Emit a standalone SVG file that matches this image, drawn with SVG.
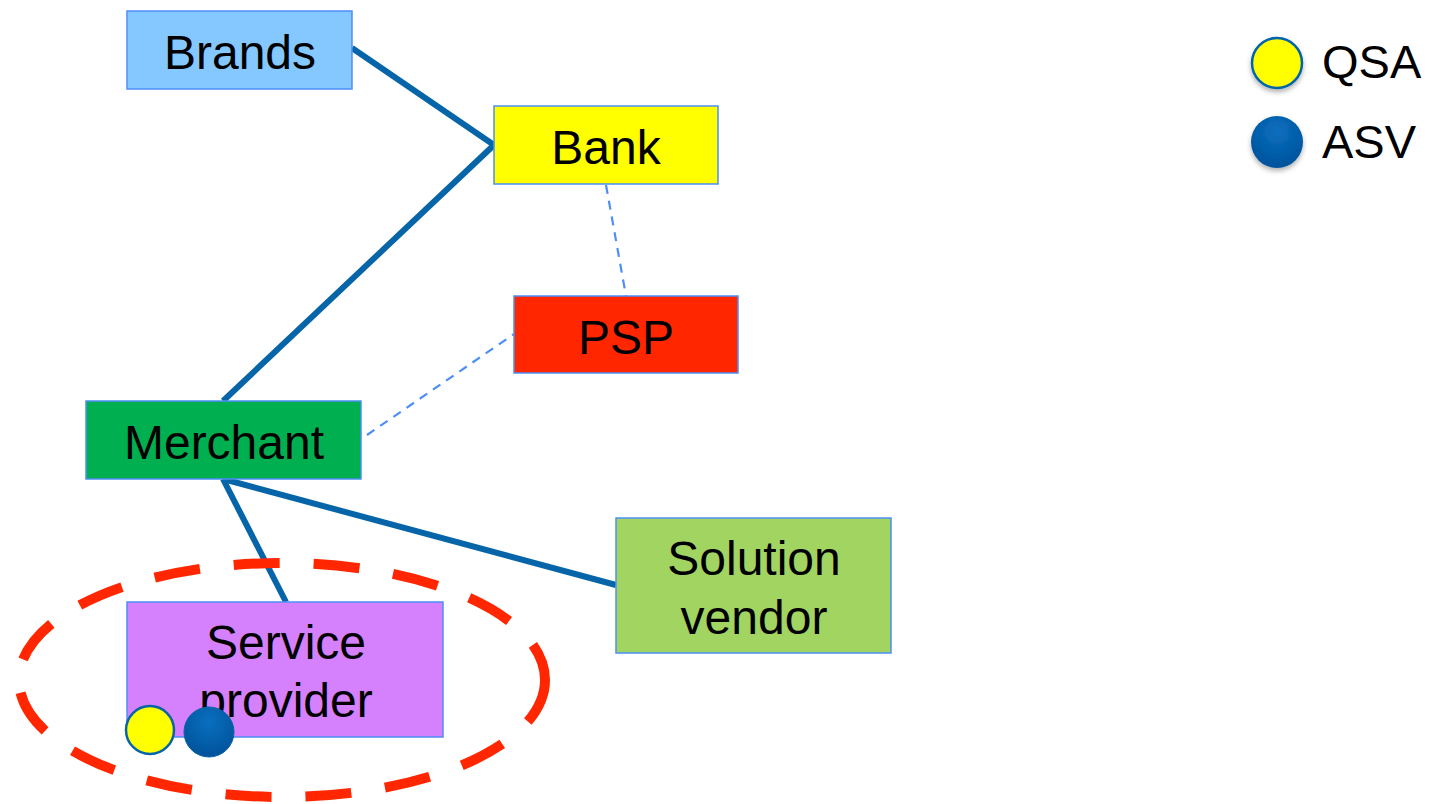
<svg xmlns="http://www.w3.org/2000/svg" width="1429" height="804" viewBox="0 0 1429 804">
<defs>
<radialGradient id="blueG" cx="0.5" cy="0.3" r="0.7"><stop offset="0" stop-color="#0a6fbf"/><stop offset="1" stop-color="#00529a"/></radialGradient>
<filter id="sh" x="-30%" y="-30%" width="160%" height="170%"><feDropShadow dx="0" dy="3" stdDeviation="2.5" flood-color="#000" flood-opacity="0.3"/></filter>
</defs>
<style>
.box{stroke:#4d8ef7;stroke-width:1.5}
.t{font-family:"Liberation Sans",Arial,sans-serif;font-size:48px;fill:#000;text-anchor:middle}
.lt{font-family:"Liberation Sans",Arial,sans-serif;font-size:47px;fill:#000}
.solid{stroke:#0565a8;stroke-width:6;fill:none;stroke-linecap:butt}
.dash{stroke:#4d8ef7;stroke-width:2.2;fill:none;stroke-dasharray:9 7}
</style>
<rect width="1429" height="804" fill="#fff"/>
<g id="connectors">
<line class="solid" x1="352" y1="48" x2="494" y2="145"/>
<line class="solid" x1="494" y1="145" x2="223" y2="401"/>
<line class="solid" x1="223" y1="479" x2="286" y2="602"/>
<line class="solid" x1="223" y1="479" x2="616" y2="585"/>
<line class="dash" x1="606" y1="185" x2="626" y2="296"/>
<line class="dash" x1="367" y1="435" x2="514" y2="334"/>
</g>
<g id="brands"><rect class="box" x="127" y="11" width="225" height="78" fill="#85c8ff"/><text class="t" x="240" y="69">Brands</text></g>
<g id="bank"><rect class="box" x="494" y="106" width="224" height="78" fill="#ffff00"/><text class="t" x="606" y="164">Bank</text></g>
<g id="psp"><rect class="box" x="514" y="296" width="224" height="77" fill="#ff2600"/><text class="t" x="626" y="354">PSP</text></g>
<g id="merchant"><rect class="box" x="86" y="401" width="275" height="78" fill="#00b050"/><text class="t" x="224" y="459">Merchant</text></g>
<g id="solution-vendor"><rect class="box" x="616" y="518" width="275" height="135" fill="#a2d462"/><text class="t" x="754" y="575">Solution</text><text class="t" x="754" y="634">vendor</text></g>
<g id="service-provider"><rect class="box" x="127" y="602" width="316" height="135" fill="#d580fc"/><text class="t" x="286" y="659">Service</text><text class="t" x="286" y="717">provider</text>
<circle cx="150" cy="730" r="24" fill="#ffff00" stroke="#0565a8" stroke-width="2.5"/>
<circle cx="209" cy="732" r="25" fill="url(#blueG)" stroke="#0565a8" stroke-width="1"/>
</g>
<g id="scope"><ellipse cx="282" cy="680" rx="263" ry="117" fill="none" stroke="#ff2600" stroke-width="10" stroke-dasharray="46 34"/></g>
<g id="legend">
<circle cx="1277" cy="63" r="25" fill="#ffff00" stroke="#0565a8" stroke-width="2.5" filter="url(#sh)"/>
<text class="lt" x="1322" y="78">QSA</text>
<circle cx="1277" cy="142" r="26" fill="url(#blueG)" filter="url(#sh)"/>
<text class="lt" x="1322" y="158">ASV</text>
</g>
</svg>
